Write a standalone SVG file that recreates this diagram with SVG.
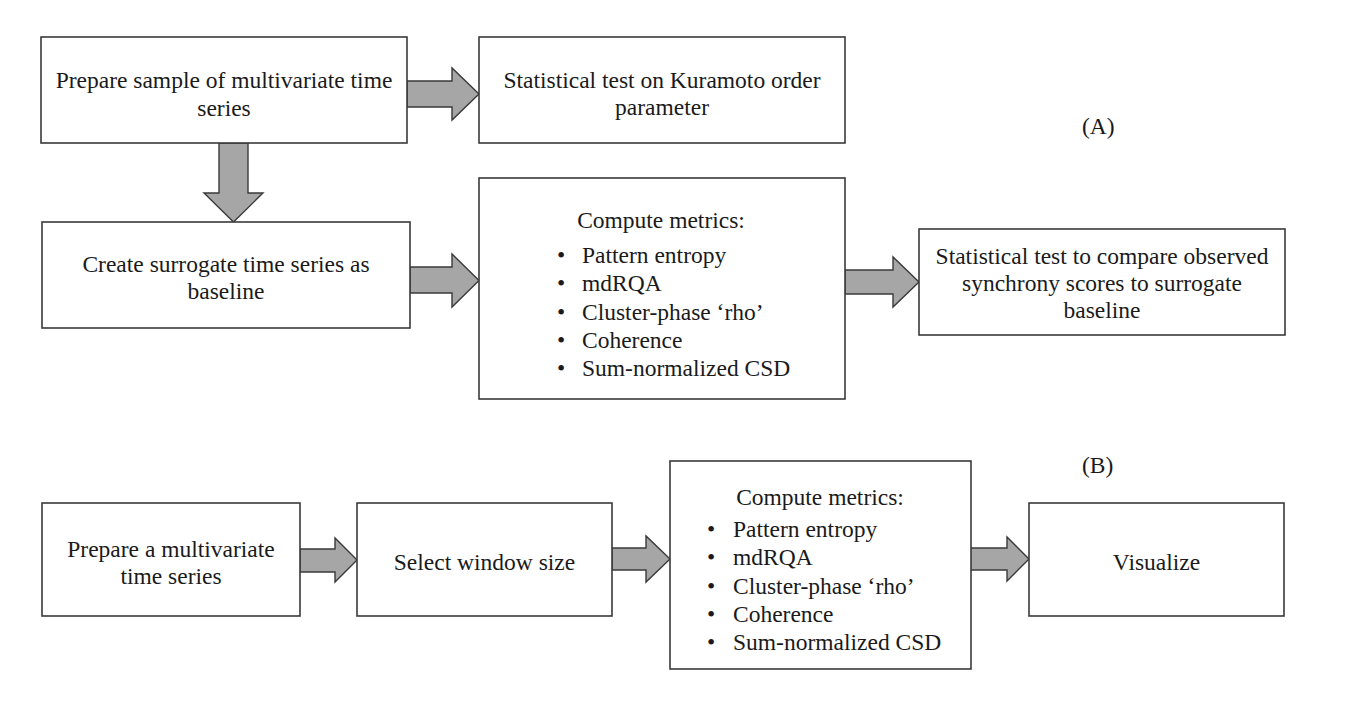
<svg xmlns="http://www.w3.org/2000/svg" width="1360" height="706" viewBox="0 0 1360 706">
<style>
  .box { fill: #ffffff; stroke: #3a3a3a; stroke-width: 1.6; }
  .arr { fill: #a6a6a6; stroke: #3a3a3a; stroke-width: 1.4; stroke-linejoin: miter; }
  text { font-family: "Liberation Serif", "Times New Roman", serif; font-size: 23.5px; fill: #1a1a1a; }
  .c { text-anchor: middle; }
</style>
<rect width="1360" height="706" fill="#ffffff"/>

<g id="connectors">
  <polygon class="arr" points="407,81 452,81 452,68 479,94 452,120 452,107 407,107"/>
  <polygon class="arr" points="219,143 248,143 248,193 263,193 233.5,222 204,193 219,193"/>
  <polygon class="arr" points="410,267 452,267 452,254 479,280.5 452,307 452,293 410,293"/>
  <polygon class="arr" points="845,270 893,270 893,257 919,282 893,307 893,294 845,294"/>
  <polygon class="arr" points="300,549 335,549 335,538 357,560 335,582 335,572 300,572"/>
  <polygon class="arr" points="612,548 646,548 646,536 670,559 646,582 646,570 612,570"/>
  <polygon class="arr" points="970,548 1007,548 1007,537 1029,559 1007,581 1007,570 970,570"/>
</g>

<g id="a-prepare">
  <rect class="box" x="41" y="37" width="366" height="106"/>
  <text class="c" x="224" y="88">Prepare sample of multivariate time</text>
  <text class="c" x="224" y="116">series</text>
</g>

<g id="a-kuramoto">
  <rect class="box" x="479" y="37" width="366" height="106"/>
  <text class="c" x="662" y="88">Statistical test on Kuramoto order</text>
  <text class="c" x="662" y="115">parameter</text>
</g>

<g id="label-a">
  <text x="1082" y="134">(A)</text>
</g>

<g id="a-surrogate">
  <rect class="box" x="42" y="222" width="368" height="106"/>
  <text class="c" x="226" y="272">Create surrogate time series as</text>
  <text class="c" x="226" y="299">baseline</text>
</g>

<g id="a-compute">
  <rect class="box" x="479" y="178" width="366" height="221"/>
  <text class="c" x="661" y="228">Compute metrics:</text>
  <text x="557" y="263">•</text><text x="582" y="263">Pattern entropy</text>
  <text x="557" y="291">•</text><text x="582" y="291">mdRQA</text>
  <text x="557" y="320">•</text><text x="582" y="320">Cluster-phase ‘rho’</text>
  <text x="557" y="348">•</text><text x="582" y="348">Coherence</text>
  <text x="557" y="376">•</text><text x="582" y="376">Sum-normalized CSD</text>
</g>

<g id="a-stattest">
  <rect class="box" x="919" y="229" width="366" height="106"/>
  <text class="c" x="1102" y="264">Statistical test to compare observed</text>
  <text class="c" x="1102" y="291">synchrony scores to surrogate</text>
  <text class="c" x="1102" y="318">baseline</text>
</g>

<g id="label-b">
  <text x="1082" y="473">(B)</text>
</g>

<g id="b-prepare">
  <rect class="box" x="42" y="503" width="258" height="113"/>
  <text class="c" x="171" y="557">Prepare a multivariate</text>
  <text class="c" x="171" y="584">time series</text>
</g>

<g id="b-window">
  <rect class="box" x="357" y="503" width="255" height="113"/>
  <text class="c" x="484.5" y="570">Select window size</text>
</g>

<g id="b-compute">
  <rect class="box" x="670" y="461" width="301" height="208"/>
  <text class="c" x="820" y="505">Compute metrics:</text>
  <text x="707" y="537">•</text><text x="733" y="537">Pattern entropy</text>
  <text x="707" y="565">•</text><text x="733" y="565">mdRQA</text>
  <text x="707" y="594">•</text><text x="733" y="594">Cluster-phase ‘rho’</text>
  <text x="707" y="622">•</text><text x="733" y="622">Coherence</text>
  <text x="707" y="650">•</text><text x="733" y="650">Sum-normalized CSD</text>
</g>

<g id="b-visualize">
  <rect class="box" x="1029" y="503" width="255" height="113"/>
  <text class="c" x="1156.5" y="570">Visualize</text>
</g>
</svg>
